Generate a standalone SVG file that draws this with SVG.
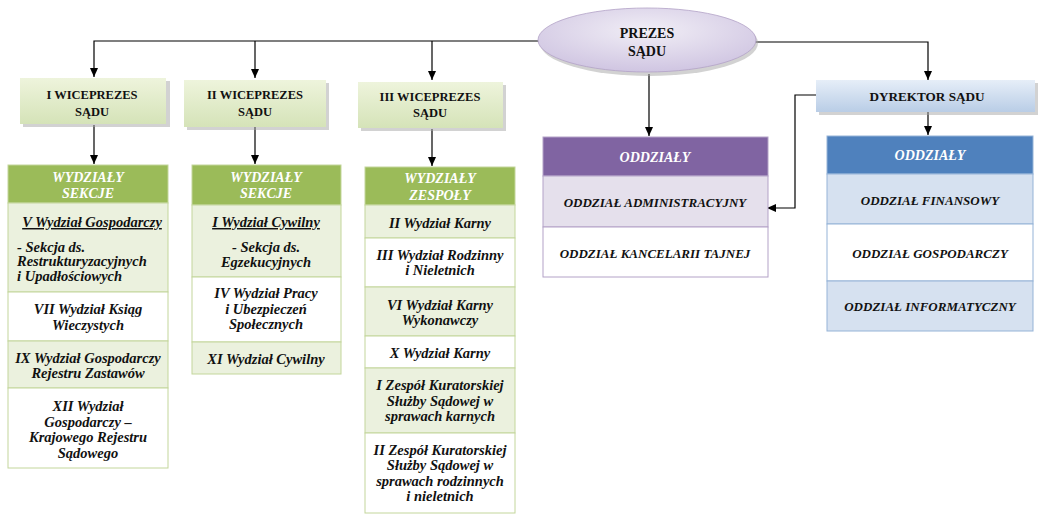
<svg xmlns="http://www.w3.org/2000/svg" width="1043" height="521" viewBox="0 0 1043 521">
<style>
text{font-family:"Liberation Serif","Times New Roman",serif;font-weight:bold;font-style:italic;font-size:14.5px;fill:#111;text-anchor:middle}
.up{font-style:normal;font-size:12.5px}
.pz{font-size:14px}
.dy{font-size:13.2px}
.cp{font-size:13px}
.hd{fill:#fff;font-size:14px}
.lt{text-anchor:start}
.u{text-decoration:underline}
.c{fill:none;stroke:#000;stroke-width:1.2}
.gb{stroke:#c3d69b;stroke-width:1}
.pb{stroke:#b3a2c7;stroke-width:1}
.bb{stroke:#95b3d7;stroke-width:1}
.sh{fill:#a6a6a6;opacity:0.5}
</style>
<defs>
<marker id="ah" markerUnits="userSpaceOnUse" markerWidth="10" markerHeight="10" refX="9" refY="5" orient="auto">
<path d="M0,1 L9,5 L0,9 Z" fill="#000"/>
</marker>
<linearGradient id="gw" x1="0" y1="0" x2="0" y2="1">
<stop offset="0" stop-color="#eef4dc"/><stop offset="1" stop-color="#d5e3b8"/>
</linearGradient>
<linearGradient id="gd" x1="0" y1="0" x2="0" y2="1">
<stop offset="0" stop-color="#e6eef8"/><stop offset="1" stop-color="#b9cde6"/>
</linearGradient>
<radialGradient id="ge" cx="0.5" cy="0.35" r="0.7">
<stop offset="0" stop-color="#f1eef6"/><stop offset="1" stop-color="#cdc2e0"/>
</radialGradient>
</defs>
<rect width="1043" height="521" fill="#fff"/>

<g id="connectors">
<path class="c" d="M540,41 H94 V77" marker-end="url(#ah)"/>
<path class="c" d="M255,41 V78" marker-end="url(#ah)"/>
<path class="c" d="M432,41 V80" marker-end="url(#ah)"/>
<path class="c" d="M755,42 H928 V80" marker-end="url(#ah)"/>
<path class="c" d="M649,74 V136" marker-end="url(#ah)"/>
<path class="c" d="M928,112 V135" marker-end="url(#ah)"/>
<path class="c" d="M94,125 V164" marker-end="url(#ah)"/>
<path class="c" d="M255,127 V164" marker-end="url(#ah)"/>
<path class="c" d="M432,129 V166" marker-end="url(#ah)"/>
<path class="c" d="M816,95 H795 V208 H767" marker-end="url(#ah)"/>
</g>

<g id="prezes">
<ellipse cx="649" cy="43" rx="109" ry="33" class="sh"/>
<ellipse cx="647" cy="40" rx="109" ry="32" fill="url(#ge)" stroke="#b3a2c7" stroke-width="0.8"/>
<text class="up pz" x="647" y="38">PREZES</text>
<text class="up pz" x="647" y="56">SĄDU</text>
</g>

<g id="wice1">
<rect x="23" y="81" width="147" height="46" class="sh"/>
<rect x="20" y="78" width="146" height="46" fill="url(#gw)"/>
<text class="up" x="92" y="99">I WICEPREZES</text>
<text class="up" x="92" y="116">SĄDU</text>
</g>
<g id="wice2">
<rect x="187" y="83" width="142" height="47" class="sh"/>
<rect x="184" y="80" width="142" height="47" fill="url(#gw)"/>
<text class="up" x="255" y="99">II WICEPREZES</text>
<text class="up" x="255" y="116">SĄDU</text>
</g>
<g id="wice3">
<rect x="361" y="85" width="145" height="46" class="sh"/>
<rect x="358" y="82" width="145" height="46" fill="url(#gw)"/>
<text class="up" x="430" y="101">III WICEPREZES</text>
<text class="up" x="430" y="117">SĄDU</text>
</g>

<g id="dyrektor">
<rect x="819" y="83" width="219" height="32" class="sh"/>
<rect x="816" y="80" width="219" height="32" fill="url(#gd)"/>
<text class="up dy" x="927" y="101">DYREKTOR SĄDU</text>
</g>

<g id="tabela1">
<rect x="8" y="165" width="160" height="38" fill="#9bbb59" class="gb"/>
<rect x="8" y="203" width="160" height="89" fill="#ebf1de" class="gb"/>
<rect x="8" y="292" width="160" height="49" fill="#fff" class="gb"/>
<rect x="8" y="341" width="160" height="47" fill="#ebf1de" class="gb"/>
<rect x="8" y="388" width="160" height="80" fill="#fff" class="gb"/>
<text class="hd" x="88" y="182">WYDZIAŁY</text>
<text class="hd" x="88" y="198">SEKCJE</text>
<text class="u" x="92" y="227"> V Wydział Gospodarczy</text>
<text class="lt" x="17" y="252">- Sekcja ds.</text>
<text class="lt" x="17" y="266">Restrukturyzacyjnych</text>
<text class="lt" x="17" y="281"> i Upadłościowych</text>
<text x="88" y="314">VII Wydział Ksiąg</text>
<text x="88" y="330">Wieczystych</text>
<text x="88" y="363">IX Wydział Gospodarczy</text>
<text x="88" y="378">Rejestru Zastawów</text>
<text x="88" y="411">XII Wydział</text>
<text x="88" y="427">Gospodarczy –</text>
<text x="88" y="442">Krajowego Rejestru</text>
<text x="88" y="458">Sądowego</text>
</g>

<g id="tabela2">
<rect x="192" y="165" width="149" height="40" fill="#9bbb59" class="gb"/>
<rect x="192" y="205" width="149" height="72" fill="#ebf1de" class="gb"/>
<rect x="192" y="277" width="149" height="65" fill="#fff" class="gb"/>
<rect x="192" y="342" width="149" height="32" fill="#ebf1de" class="gb"/>
<text class="hd" x="266" y="182">WYDZIAŁY</text>
<text class="hd" x="266" y="198">SEKCJE</text>
<text class="u" x="266" y="227">I Wydział Cywilny</text>
<text x="266" y="252">-  Sekcja ds.</text>
<text x="266" y="267">Egzekucyjnych</text>
<text x="266" y="298">IV Wydział Pracy</text>
<text x="266" y="314">i Ubezpieczeń</text>
<text x="266" y="329">Społecznych</text>
<text x="266" y="364">XI Wydział Cywilny</text>
</g>

<g id="tabela3">
<rect x="365" y="167" width="150" height="38" fill="#9bbb59" class="gb"/>
<rect x="365" y="205" width="150" height="33" fill="#ebf1de" class="gb"/>
<rect x="365" y="238" width="150" height="49" fill="#fff" class="gb"/>
<rect x="365" y="287" width="150" height="49" fill="#ebf1de" class="gb"/>
<rect x="365" y="336" width="150" height="32" fill="#fff" class="gb"/>
<rect x="365" y="368" width="150" height="65" fill="#ebf1de" class="gb"/>
<rect x="365" y="433" width="150" height="80" fill="#fff" class="gb"/>
<text class="hd" x="440" y="183">WYDZIAŁY</text>
<text class="hd" x="440" y="200">ZESPOŁY</text>
<text x="440" y="228">II Wydział Karny</text>
<text x="440" y="260">III Wydział Rodzinny</text>
<text x="440" y="275">i Nieletnich</text>
<text x="440" y="310">VI Wydział Karny</text>
<text x="440" y="325">Wykonawczy</text>
<text x="440" y="358">X Wydział Karny</text>
<text x="440" y="390">I Zespół Kuratorskiej</text>
<text x="440" y="406">Służby Sądowej w</text>
<text x="440" y="421">sprawach karnych</text>
<text x="440" y="455">II Zespół Kuratorskiej</text>
<text x="440" y="470">Służby Sądowej w</text>
<text x="440" y="486">sprawach rodzinnych</text>
<text x="440" y="501">i nieletnich</text>
</g>

<g id="oddzialy-prezes">
<rect x="543" y="137" width="225" height="39" fill="#8064a2" class="pb"/>
<rect x="543" y="176" width="225" height="51" fill="#e5e0ec" class="pb"/>
<rect x="543" y="227" width="225" height="50" fill="#fff" class="pb"/>
<text class="hd" x="655" y="162">ODDZIAŁY</text>
<text class="cp" x="655" y="207">ODDZIAŁ ADMINISTRACYJNY</text>
<text class="cp" x="655" y="258">ODDZIAŁ KANCELARII TAJNEJ</text>
</g>

<g id="oddzialy-dyrektor">
<rect x="827" y="136" width="206" height="38" fill="#4f81bd" class="bb"/>
<rect x="827" y="174" width="206" height="50" fill="#d6e1f0" class="bb"/>
<rect x="827" y="224" width="206" height="57" fill="#fff" class="bb"/>
<rect x="827" y="281" width="206" height="50" fill="#d6e1f0" class="bb"/>
<text class="hd" x="930" y="160">ODDZIAŁY</text>
<text class="cp" x="930" y="205">ODDZIAŁ FINANSOWY</text>
<text class="cp" x="930" y="258">ODDZIAŁ GOSPODARCZY</text>
<text class="cp" x="930" y="311">ODDZIAŁ INFORMATYCZNY</text>
</g>
</svg>
